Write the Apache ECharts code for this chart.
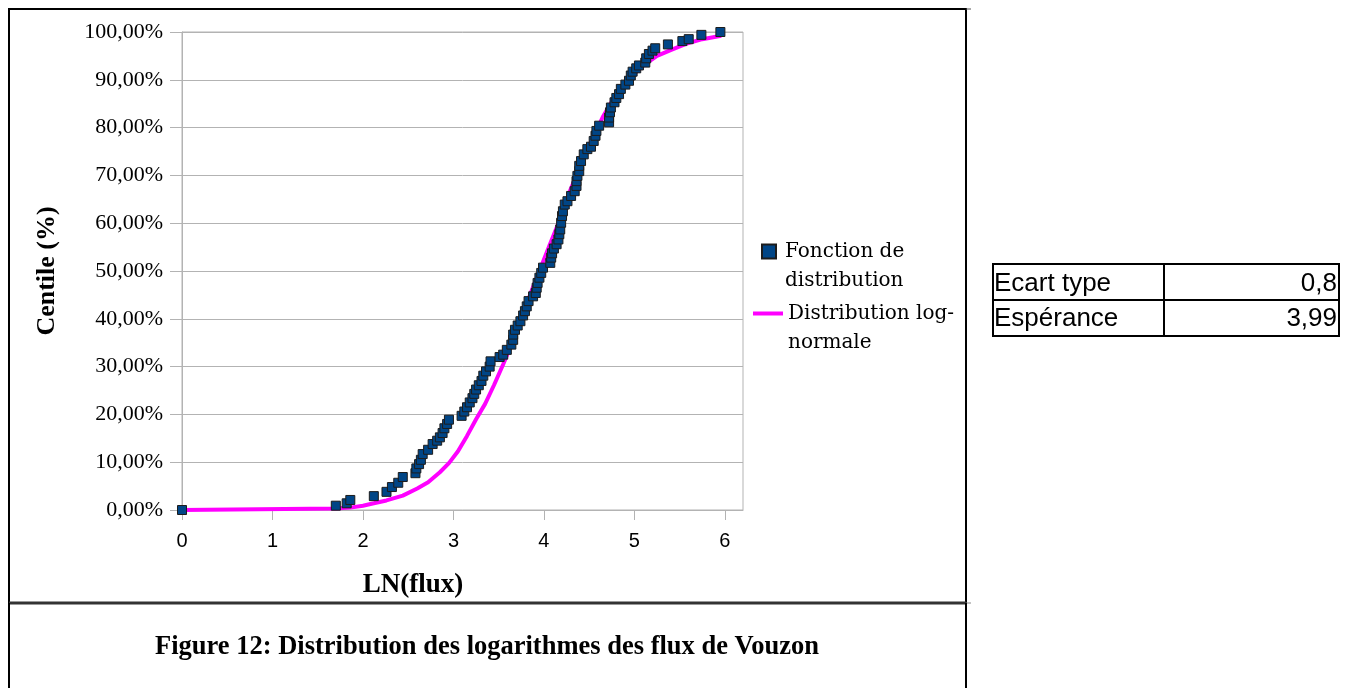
<!DOCTYPE html>
<html>
<head>
<meta charset="utf-8">
<title>Figure 12 - Vouzon</title>
<script src="https://cdn.jsdelivr.net/npm/echarts@6/dist/echarts.min.js"></script>
<style>
  html, body { margin: 0; padding: 0; background: #fff; }
  #chart { width: 1348px; height: 688px; }
</style>
</head>
<body>
<div id="chart"></div>
<script>
// valeurs
var fonctionX = [0, 1.70, 1.82, 1.86, 2.12, 2.26, 2.32, 2.39, 2.44, 2.58, 2.59, 2.62, 2.64, 2.66, 2.72, 2.77,
  2.82, 2.85, 2.88, 2.90, 2.93, 2.95, 3.09, 3.12, 3.15, 3.18, 3.21, 3.23, 3.25, 3.28, 3.31, 3.33, 3.36,
  3.40, 3.41, 3.51, 3.55, 3.59, 3.64, 3.66, 3.66, 3.68, 3.71, 3.74, 3.77, 3.79, 3.81, 3.83, 3.88, 3.91,
  3.92, 3.93, 3.95, 3.97, 3.99, 4.07, 4.08, 4.09, 4.11, 4.14, 4.16, 4.17, 4.18, 4.19, 4.20, 4.21, 4.23,
  4.26, 4.30, 4.34, 4.36, 4.36, 4.37, 4.39, 4.39, 4.41, 4.44, 4.48, 4.52, 4.55, 4.57, 4.58, 4.61, 4.72,
  4.72, 4.73, 4.74, 4.78, 4.80, 4.83, 4.85, 4.90, 4.94, 4.96, 4.98, 5.02, 5.05, 5.12, 5.13, 5.16, 5.20,
  5.23, 5.37, 5.53, 5.60, 5.74, 5.95];
var fonctionY = [0, 0.009, 0.014, 0.021, 0.029, 0.038, 0.048, 0.057, 0.069, 0.077, 0.087, 0.096, 0.105, 0.117, 0.126, 0.138,
  0.145, 0.152, 0.161, 0.171, 0.180, 0.189, 0.197, 0.206, 0.215, 0.225, 0.234, 0.243, 0.252, 0.261, 0.270, 0.281, 0.290,
  0.300, 0.311, 0.320, 0.325, 0.335, 0.346, 0.356, 0.367, 0.377, 0.386, 0.395, 0.407, 0.416, 0.426, 0.437, 0.447, 0.454,
  0.465, 0.475, 0.486, 0.496, 0.507, 0.517, 0.528, 0.537, 0.547, 0.556, 0.566, 0.577, 0.587, 0.601, 0.615, 0.625, 0.639,
  0.646, 0.657, 0.667, 0.678, 0.688, 0.699, 0.709, 0.720, 0.730, 0.744, 0.755, 0.760, 0.772, 0.783, 0.793, 0.804, 0.811,
  0.821, 0.832, 0.842, 0.853, 0.862, 0.870, 0.881, 0.890, 0.898, 0.909, 0.917, 0.924, 0.930, 0.936, 0.945, 0.954, 0.961,
  0.966, 0.974, 0.981, 0.985, 0.994, 1.0];

var lognormX = [0, 1.70, 1.86, 2.00, 2.12, 2.26, 2.44, 2.60, 2.72, 2.85, 2.95, 3.05, 3.15, 3.25, 3.35, 3.45,
  3.55, 3.65, 3.75, 3.85, 3.95, 4.05, 4.15, 4.28, 4.40, 4.50, 4.65, 4.80, 4.95, 5.10, 5.25, 5.40, 5.57, 5.75, 5.96];
var lognormY = [0, 0.003, 0.005, 0.009, 0.014, 0.020, 0.030, 0.045, 0.058, 0.079, 0.098, 0.123, 0.155, 0.190, 0.222, 0.262,
  0.305, 0.350, 0.398, 0.452, 0.500, 0.548, 0.595, 0.664, 0.718, 0.762, 0.822, 0.870, 0.905, 0.930, 0.950, 0.962, 0.975, 0.985, 0.992];

var xTicks = [0, 1, 2, 3, 4, 5, 6];
var tableLabels = ['Ecart type', 'Espérance'];
var tableValues = ['0,8', '3,99'];

var seriesNames = ['Fonction de distribution', 'Distribution log-normale'];
// ligne vide en tête : le symbole reste en face de la première ligne
var legendText = {
  'Fonction de distribution': '\nFonction de\ndistribution',
  'Distribution log-normale': '\nDistribution log-\nnormale'
};

var fonctionData = fonctionX.map(function (x, i) { return [x, fonctionY[i]]; });
var lognormData = lognormX.map(function (x, i) { return [x, lognormY[i]]; });

var legendFont = {
  fontFamily: 'DejaVu Serif', fontSize: 20, lineHeight: 29, color: '#000'
};

// tableau à droite (Ecart type / Espérance)
var tableGraphics = [
  { type: 'rect', shape: { x: 993, y: 264, width: 346, height: 72 }, style: { fill: '#fff', stroke: '#000', lineWidth: 2 } },
  { type: 'line', shape: { x1: 993, y1: 300, x2: 1339, y2: 300 }, style: { stroke: '#000', lineWidth: 2 } },
  { type: 'line', shape: { x1: 1164, y1: 264, x2: 1164, y2: 336 }, style: { stroke: '#000', lineWidth: 2 } }
];
tableLabels.forEach(function (lab, i) {
  tableGraphics.push({
    type: 'text', x: 994, y: 284 + i * 35,
    style: { text: lab, fontFamily: 'Liberation Sans', fontSize: 26, fill: '#000', align: 'left', verticalAlign: 'middle' }
  });
  tableGraphics.push({
    type: 'text', x: 1337, y: 284 + i * 35,
    style: { text: tableValues[i], fontFamily: 'Liberation Sans', fontSize: 26, fill: '#000', align: 'right', verticalAlign: 'middle' }
  });
});

var myChart = echarts.init(document.getElementById('chart'));

myChart.setOption({
  animation: false,
  backgroundColor: '#fff',
  grid: {
    left: 182,
    top: 32,
    width: 561,
    height: 478,
    show: true,
    borderColor: '#b3b3b3',
    borderWidth: 1,
    backgroundColor: '#fff',
    outerBoundsMode: 'none'
  },
  legend: [
    {
      data: [seriesNames[0]],
      orient: 'vertical',
      left: 761,
      top: 208,
      padding: 0,
      // carré dans une case plus large, pour écarter le texte
      icon: 'path://M0,0h10v10h-10z',
      itemWidth: 22,
      itemHeight: 14,
      itemGap: 0,
      formatter: function (name) { return legendText[name]; },
      textStyle: legendFont
    },
    {
      data: [seriesNames[1]],
      orient: 'vertical',
      left: 753,
      top: 270,
      padding: 0,
      icon: 'rect',
      itemWidth: 30,
      itemHeight: 4,
      itemGap: 0,
      formatter: function (name) { return legendText[name]; },
      textStyle: legendFont
    }
  ],
  xAxis: {
    type: 'value',
    min: 0,
    max: 6.2,
    interval: 1,
    name: 'LN(flux)',
    nameLocation: 'middle',
    nameGap: 62,
    nameTextStyle: {
      fontFamily: 'Liberation Serif', fontWeight: 'bold', fontSize: 27, color: '#000',
      padding: [0, 99, 0, 0]
    },
    axisLine: { show: true, lineStyle: { color: '#b3b3b3' } },
    axisTick: { show: true, length: 10, customValues: xTicks, lineStyle: { color: '#b3b3b3' } },
    axisLabel: {
      customValues: xTicks,
      margin: 21,
      fontFamily: 'Liberation Sans',
      fontSize: 20,
      color: '#000'
    },
    splitLine: { show: false }
  },
  yAxis: {
    type: 'value',
    min: 0,
    max: 1,
    interval: 0.1,
    name: 'Centile (%)',
    nameLocation: 'middle',
    nameGap: 122,
    nameTextStyle: { fontFamily: 'Liberation Serif', fontWeight: 'bold', fontSize: 26, color: '#000' },
    axisLine: { show: true, lineStyle: { color: '#b3b3b3' } },
    axisTick: { show: true, length: 12, lineStyle: { color: '#b3b3b3' } },
    axisLabel: {
      margin: 19,
      fontFamily: 'Liberation Serif',
      fontSize: 22,
      color: '#000',
      formatter: function (v) { return (v * 100).toFixed(2).replace('.', ',') + '%'; }
    },
    splitLine: { show: true, lineStyle: { color: '#b3b3b3' } }
  },
  series: [
    {
      name: seriesNames[0],
      type: 'scatter',
      data: fonctionData,
      symbol: 'rect',
      symbolSize: 9,
      z: 3,
      itemStyle: { color: '#004586', borderColor: '#1c1c1c', borderWidth: 1, opacity: 1 }
    },
    {
      name: seriesNames[1],
      type: 'line',
      data: lognormData,
      symbol: 'none',
      z: 2,
      lineStyle: { color: '#ff00ff', width: 4 },
      itemStyle: { color: '#ff00ff' }
    }
  ],
  graphic: [
    // cadre du graphique
    { type: 'rect', silent: true, shape: { x: 9, y: 9, width: 957, height: 594 }, style: { fill: null, stroke: '#000', lineWidth: 2 } },
    { type: 'line', silent: true, shape: { x1: 966, y1: 9, x2: 971, y2: 9 }, style: { stroke: '#555', lineWidth: 1 } },
    // cadre de la légende de figure
    { type: 'line', silent: true, shape: { x1: 9, y1: 603, x2: 966, y2: 603 }, style: { stroke: '#333', lineWidth: 3 } },
    { type: 'line', silent: true, shape: { x1: 966, y1: 603, x2: 971, y2: 603 }, style: { stroke: '#888', lineWidth: 1 } },
    { type: 'line', silent: true, shape: { x1: 9, y1: 603, x2: 9, y2: 688 }, style: { stroke: '#000', lineWidth: 2 } },
    { type: 'line', silent: true, shape: { x1: 966, y1: 603, x2: 966, y2: 688 }, style: { stroke: '#000', lineWidth: 2 } },
    {
      type: 'text', silent: true, x: 487, y: 647,
      style: {
        text: 'Figure 12: Distribution des logarithmes des flux de Vouzon',
        fontFamily: 'Liberation Serif', fontWeight: 'bold', fontSize: 26.5, fill: '#000',
        align: 'center', verticalAlign: 'middle'
      }
    }
  ].concat(tableGraphics)
});
</script>
</body>
</html>
